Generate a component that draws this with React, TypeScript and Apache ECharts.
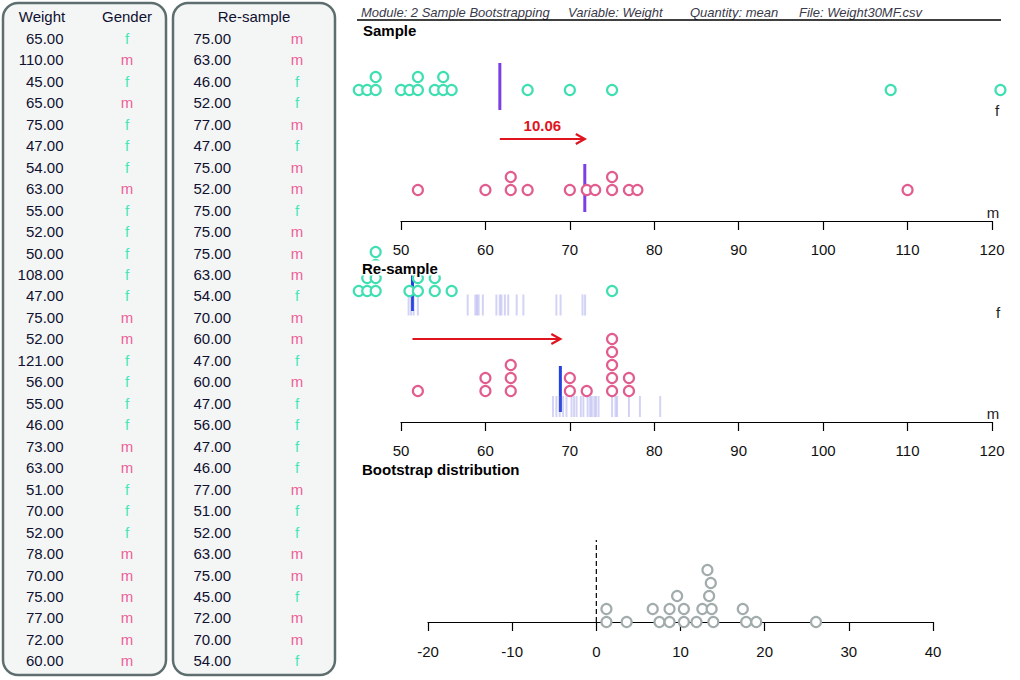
import React, { useEffect, useRef } from "react";
import * as echarts from "echarts";

// ---------------- data ----------------
const sampleWeight = [65, 110, 45, 65, 75, 47, 54, 63, 55, 52, 50, 108, 47, 75, 52, 121, 56, 55, 46, 73, 63, 51, 70, 52, 78, 70, 75, 77, 72, 60];
const sampleGender = ["f", "m", "f", "m", "f", "f", "f", "m", "f", "f", "f", "f", "f", "m", "m", "f", "f", "f", "f", "m", "m", "f", "f", "f", "m", "m", "m", "m", "m", "m"];
const resampleWeight = [75, 63, 46, 52, 77, 47, 75, 52, 75, 75, 75, 63, 54, 70, 60, 47, 60, 47, 56, 47, 46, 77, 51, 52, 63, 75, 45, 72, 70, 54];
const resampleGender = ["m", "m", "f", "f", "m", "f", "m", "m", "f", "m", "m", "m", "f", "m", "m", "f", "m", "f", "f", "f", "f", "m", "f", "f", "m", "m", "f", "m", "m", "f"];

// means of earlier re-samples (faint ticks)
const pastFemaleMeans = [50.9, 51.2, 51.5, 52.0, 57.9, 58.8, 59.0, 59.2, 59.7, 61.3, 61.7, 61.9, 62.3, 62.7, 63.7, 64.5, 68.4, 68.9, 71.5, 71.8];
const pastMaleMeans = [68.0, 68.4, 68.8, 69.2, 69.6, 70.2, 70.5, 70.8, 71.3, 71.6, 72.1, 72.4, 72.6, 72.9, 73.1, 73.4, 75.0, 75.4, 75.6, 77.0, 78.3, 80.7];

// bootstrap distribution of differences (m - f) with stack level
const bootDiffs = [1.2, 3.6, 7.5, 8.7, 10.4, 11.9, 13.9, 17.8, 19.0, 26.1, 1.2, 6.7, 8.7, 10.4, 12.6, 13.7, 17.4, 9.6, 13.4, 13.6, 13.2];
const bootStack = [0, 0, 0, 0, 0, 0, 0, 0, 0, 0, 1, 1, 1, 1, 1, 1, 1, 2, 2, 3, 4];

const weightTicks = { min: 50, max: 120, step: 10 };
const diffTicks = { min: -20, max: 40, step: 10 };

const headerItems = ["Module: 2 Sample Bootstrapping", "Variable: Weight", "Quantity: mean", "File: Weight30MF.csv"];

// ---------------- styles ----------------
const FONT = "'Liberation Sans', Arial, Helvetica, sans-serif";
const GREEN = "#3fdfb2";
const PINK = "#e25d8f";
const GREEN_TXT = "#45e6b6";
const PINK_TXT = "#ee5f96";
const PURPLE = "#7b3fe4";
const BLUE = "#2340e0";
const LAVENDER = "rgba(110,110,225,0.38)";
const RED = "#e0141e";
const GRAY = "#a2acac";

const STEP = 13;
const F_BASE = 131;
const M_BASE = 31;

const sel = (w: number[], g: string[], k: string) => w.filter((_, i) => g[i] === k);
const meanOf = (a: number[]) => a.reduce((s, v) => s + v, 0) / a.length;

function stackDots(vals: number[], base: number) {
  const sorted = [...vals].sort((a, b) => a - b);
  const counts: Record<string, number> = {};
  return sorted.map((v) => {
    const lvl = counts[v] || 0;
    counts[v] = lvl + 1;
    return [v, base + lvl * STEP];
  });
}

const mkX = (gi: number, t: { min: number; max: number; step: number }, margin: number) => ({
  type: "value",
  gridIndex: gi,
  min: t.min,
  max: t.max,
  interval: t.step,
  axisLine: { show: true, onZero: false, lineStyle: { color: "#000", width: 1.2 } },
  axisTick: { show: true, length: 9, lineStyle: { color: "#000", width: 1.2 } },
  axisLabel: { color: "#111", fontSize: 15, fontFamily: FONT, margin },
  splitLine: { show: false },
});
const mkY = (gi: number, max: number) => ({ type: "value", gridIndex: gi, min: 0, max, show: false });

const dotSeries = (gi: number, data: number[][], color: string) => ({
  type: "scatter",
  xAxisIndex: gi,
  yAxisIndex: gi,
  silent: true,
  clip: false,
  symbol: "circle",
  symbolSize: 10,
  itemStyle: { color: "#fff", borderColor: color, borderWidth: 2.2, opacity: 1 },
  data,
});

const tickSeries = (gi: number, vals: number[], y: number) => ({
  type: "scatter",
  xAxisIndex: gi,
  yAxisIndex: gi,
  silent: true,
  clip: false,
  symbol: "rect",
  symbolSize: [2, 21],
  itemStyle: { color: LAVENDER },
  data: vals.map((v) => [v, y]),
});

const vlineSeries = (gi: number, data: number[][], color: string, width: number, dash?: number[]) => ({
  type: "custom",
  xAxisIndex: gi,
  yAxisIndex: gi,
  silent: true,
  clip: false,
  data,
  encode: { x: 0, y: [1, 2] },
  renderItem: (_p: any, api: any) => {
    const a = api.coord([api.value(0), api.value(1)]);
    const b = api.coord([api.value(0), api.value(2)]);
    return {
      type: "line",
      shape: { x1: a[0], y1: a[1], x2: b[0], y2: b[1] },
      style: { stroke: color, lineWidth: width, lineDash: dash || null },
    };
  },
});

const arrowSeries = (gi: number, x0: number, x1: number, y: number, label?: string) => ({
  type: "custom",
  xAxisIndex: gi,
  yAxisIndex: gi,
  silent: true,
  clip: false,
  data: [[x0, x1, y]],
  encode: { x: [0, 1], y: 2 },
  renderItem: (_p: any, api: any) => {
    const a = api.coord([api.value(0), api.value(2)]);
    const b = api.coord([api.value(1), api.value(2)]);
    const children: any[] = [
      { type: "line", shape: { x1: a[0], y1: a[1], x2: b[0], y2: b[1] }, style: { stroke: RED, lineWidth: 2.2 } },
      {
        type: "polyline",
        shape: { points: [[b[0] - 9, b[1] - 5], [b[0], b[1]], [b[0] - 9, b[1] + 5]] },
        style: { stroke: RED, lineWidth: 2.2, fill: null },
      },
    ];
    if (label) {
      children.push({
        type: "text",
        x: (a[0] + b[0]) / 2,
        y: a[1] - 14,
        style: { text: label, fill: RED, fontSize: 15, fontWeight: "bold", fontFamily: FONT, align: "center", verticalAlign: "middle" },
      });
    }
    return { type: "group", children };
  },
});

function tableGraphics(): any[] {
  const els: any[] = [];
  const boxStyle = { fill: "#f4f6f6", stroke: "#5e6e6e", lineWidth: 2.5 };
  els.push({ type: "rect", shape: { x: 3, y: 3, width: 163, height: 672, r: 15 }, style: boxStyle });
  els.push({ type: "rect", shape: { x: 173, y: 3, width: 162, height: 672, r: 15 }, style: boxStyle });
  const txt = (text: string, x: number, y: number, fill: string, align: string) => ({
    type: "text",
    x,
    y,
    style: { text, fill, fontSize: 15, fontFamily: FONT, align, verticalAlign: "middle" },
  });
  els.push(txt("Weight", 42, 16, "#101030", "center"));
  els.push(txt("Gender", 127, 16, "#101030", "center"));
  els.push(txt("Re-sample", 254, 16, "#101030", "center"));
  sampleWeight.forEach((w, i) => {
    const y = 38.3 + i * 21.47;
    els.push(txt(w.toFixed(2), 63.5, y, "#101030", "right"));
    els.push(txt(sampleGender[i], 127, y, sampleGender[i] === "f" ? GREEN_TXT : PINK_TXT, "center"));
  });
  resampleWeight.forEach((w, i) => {
    const y = 38.3 + i * 21.47;
    els.push(txt(w.toFixed(2), 231, y, "#101030", "right"));
    els.push(txt(resampleGender[i], 297, y, resampleGender[i] === "f" ? GREEN_TXT : PINK_TXT, "center"));
  });
  return els;
}

export default function App() {
  const ref = useRef<HTMLDivElement>(null);
  useEffect(() => {
    if (!ref.current) return;
    const chart = echarts.init(ref.current, undefined, { renderer: "svg" });

    const sF = sel(sampleWeight, sampleGender, "f");
    const sM = sel(sampleWeight, sampleGender, "m");
    const rF = sel(resampleWeight, resampleGender, "f");
    const rM = sel(resampleWeight, resampleGender, "m");
    const mSF = meanOf(sF), mSM = meanOf(sM), mRF = meanOf(rF), mRM = meanOf(rM);

    const headerX = [361, 568, 690, 799];
    const graphic: any[] = [
      ...tableGraphics(),
      ...headerItems.map((t, i) => ({
        type: "text",
        x: headerX[i],
        y: 12.5,
        style: { text: t, fill: "#3a3a4a", fontSize: 13, fontStyle: "italic", fontFamily: FONT, verticalAlign: "middle" },
      })),
      { type: "line", shape: { x1: 357, y1: 20, x2: 1001, y2: 20 }, style: { stroke: "#000", lineWidth: 1.3 } },
      { type: "text", x: 363, y: 30, z: 100, style: { text: "Sample", fill: "#000", fontSize: 15, fontWeight: "bold", fontFamily: FONT, verticalAlign: "middle" } },
      {
        type: "text", x: 360, y: 268, z: 100,
        style: { text: "Re-sample", fill: "#000", fontSize: 15, fontWeight: "bold", fontFamily: FONT, verticalAlign: "middle", backgroundColor: "#fff", padding: [0, 2, 0, 2] },
      },
      { type: "text", x: 362, y: 469, z: 100, style: { text: "Bootstrap distribution", fill: "#000", fontSize: 15, fontWeight: "bold", fontFamily: FONT, verticalAlign: "middle" } },
      { type: "text", x: 997, y: 110, style: { text: "f", fill: "#222", fontSize: 15, fontFamily: FONT, align: "center", verticalAlign: "middle" } },
      { type: "text", x: 993, y: 212, style: { text: "m", fill: "#222", fontSize: 15, fontFamily: FONT, align: "center", verticalAlign: "middle" } },
      { type: "text", x: 998, y: 312, style: { text: "f", fill: "#222", fontSize: 15, fontFamily: FONT, align: "center", verticalAlign: "middle" } },
      { type: "text", x: 993, y: 413, style: { text: "m", fill: "#222", fontSize: 15, fontFamily: FONT, align: "center", verticalAlign: "middle" } },
    ];

    const bootData = bootDiffs.map((d, i) => [d, bootStack[i] * STEP]);

    chart.setOption({
      animation: false,
      backgroundColor: "#fff",
      grid: [
        { left: 401, top: 21, width: 591, height: 200 },
        { left: 401, top: 222, width: 591, height: 200 },
        { left: 428, top: 522, width: 505, height: 100 },
      ],
      xAxis: [mkX(0, weightTicks, 21), mkX(1, weightTicks, 21), mkX(2, diffTicks, 22)],
      yAxis: [mkY(0, 200), mkY(1, 200), mkY(2, 100)],
      graphic,
      series: [
        dotSeries(0, stackDots(sF, F_BASE), GREEN),
        dotSeries(0, stackDots(sM, M_BASE), PINK),
        vlineSeries(0, [[mSF, 111, 158], [mSM, 9, 57]], PURPLE, 3),
        arrowSeries(0, mSF, mSM, 82, (mSM - mSF).toFixed(2)),

        tickSeries(1, pastFemaleMeans, 117),
        tickSeries(1, pastMaleMeans, 15.5),
        dotSeries(1, stackDots(rF, F_BASE), GREEN),
        dotSeries(1, stackDots(rM, M_BASE), PINK),
        vlineSeries(1, [[mRF, 111, 158], [mRM, 10, 56]], BLUE, 3),
        arrowSeries(1, mRF, mRM, 83),

        vlineSeries(2, [[0, 0, 82]], "#000", 1.2, [5, 3]),
        dotSeries(2, bootData, GRAY),
      ],
    });
    return () => chart.dispose();
  }, []);
  return <div ref={ref} style={{ position: "absolute", left: 0, top: 0, width: 1020, height: 680, background: "#fff" }} />;
}
